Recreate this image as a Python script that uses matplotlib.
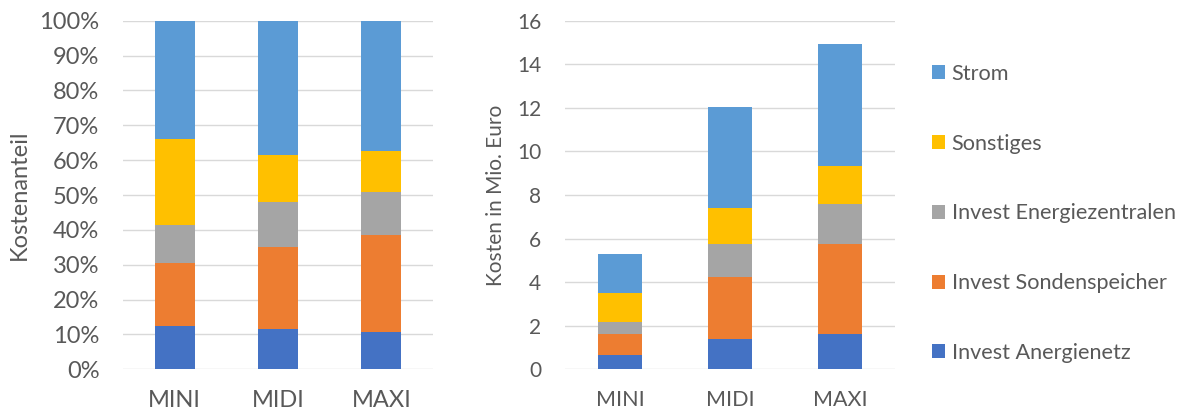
import matplotlib
matplotlib.use("Agg")
import matplotlib.pyplot as plt
import numpy as np
from matplotlib.patches import Patch

plt.rcParams['font.family'] = ['Lato', 'DejaVu Sans']

categories = ["MINI", "MIDI", "MAXI"]
series_names = ["Invest Anergienetz", "Invest Sondenspeicher",
                "Invest Energiezentralen", "Sonstiges", "Strom"]
# costs in Mio. Euro, per category (MINI, MIDI, MAXI)
anergienetz = [0.66, 1.39, 1.61]
sondenspeicher = [0.96, 2.83, 4.15]
energiezentralen = [0.57, 1.54, 1.82]
sonstiges = [1.30, 1.64, 1.76]
strom = [1.80, 4.62, 5.58]

colors = ["#4472C4", "#ED7D31", "#A5A5A5", "#FFC000", "#5B9BD5"]
text_color = "#595959"
grid_color = "#D9D9D9"

series = [anergienetz, sondenspeicher, energiezentralen, sonstiges, strom]
data = np.array(series, dtype=float)
totals = data.sum(axis=0)
shares = data / totals * 100

W, H = 1191, 419
fig = plt.figure(figsize=(W / 100, H / 100), dpi=100)

ax1 = fig.add_axes([123 / W, (H - 369.3) / H, 310 / W, 348.6 / H])
ax2 = fig.add_axes([565 / W, (H - 369.3) / H, 330 / W, 348.6 / H])

x = np.arange(len(categories))

def draw(ax, vals, width):
    bottom = np.zeros(len(categories))
    for v, c in zip(vals, colors):
        ax.bar(x, v, width, bottom=bottom, color=c, zorder=3, linewidth=0)
        bottom += v

draw(ax1, shares, 0.39)
draw(ax2, data, 0.40)

ax1.set_ylim(0, 100)
ax1.set_yticks(np.arange(0, 101, 10))
ax1.set_yticklabels([f"{v}%" for v in range(0, 101, 10)])
ax2.set_ylim(0, 16)
ax2.set_yticks(np.arange(0, 17, 2))

for ax, tfs, xfs in [(ax1, 17, 17), (ax2, 15, 15.5)]:
    ax.set_xlim(-0.5, 2.5)
    ax.set_xticks(x)
    ax.set_xticklabels(categories)
    for s in ax.spines.values():
        s.set_visible(False)
    ax.yaxis.grid(True, color=grid_color, linewidth=1, zorder=0)
    ax.set_axisbelow(True)
    ax.tick_params(axis='y', length=0, pad=17, labelsize=tfs, labelcolor=text_color)
    ax.tick_params(axis='x', length=0, pad=15, labelsize=xfs, labelcolor=text_color)

ax1.set_ylabel("Kostenanteil", fontsize=17, color=text_color, labelpad=7)
ax2.set_ylabel("Kosten in Mio. Euro", fontsize=15, color=text_color, labelpad=8)

handles = [Patch(facecolor=c, edgecolor='none') for c in colors][::-1]
labels = series_names[::-1]
fig.legend(handles, labels, loc='upper left', bbox_to_anchor=(923 / W, 1 - 55 / H),
           frameon=False, fontsize=15.6, labelcolor=text_color,
           handlelength=0.62, handleheight=0.62, handletextpad=0.3,
           labelspacing=2.3, borderaxespad=0)

fig.savefig("out.png", dpi=100)
